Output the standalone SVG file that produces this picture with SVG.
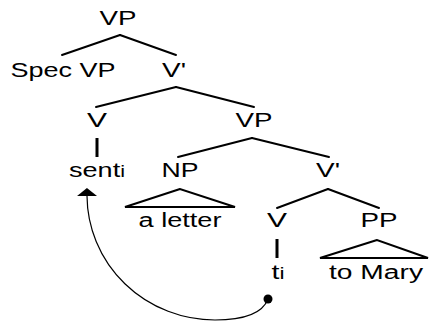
<svg xmlns="http://www.w3.org/2000/svg" width="430" height="324" viewBox="0 0 430 324">
<style>
text{font-family:"Liberation Sans",Arial,sans-serif;font-size:20px;fill:#000;text-anchor:middle}
.sub{font-size:16px}
.edge{stroke:#000;stroke-width:2;fill:none;stroke-linecap:round}
.stem{stroke:#000;stroke-width:3;fill:none}
.move{stroke:#000;stroke-width:1.2;fill:none}
</style>
<defs>
<marker id="arr" viewBox="0 0 8 20" refX="0" refY="10" markerWidth="8" markerHeight="20" markerUnits="userSpaceOnUse" orient="auto">
<path d="M0,0 L8,10 L0,20 z" fill="#000"/>
</marker>
</defs>
<rect width="430" height="324" fill="#fff"/>
<g id="connectors">
<line class="edge" x1="120" y1="35" x2="62" y2="55"/>
<line class="edge" x1="120" y1="35" x2="176" y2="55"/>
<line class="edge" x1="176" y1="87" x2="96" y2="107"/>
<line class="edge" x1="176" y1="87" x2="254" y2="107"/>
<line class="stem" x1="97" y1="138" x2="97" y2="157"/>
<line class="edge" x1="252" y1="138" x2="178" y2="157"/>
<line class="edge" x1="252" y1="138" x2="329" y2="157"/>
<polygon class="edge" points="180,189 125,207 235,207"/>
<line class="edge" x1="328" y1="189" x2="277" y2="208"/>
<line class="edge" x1="328" y1="189" x2="379" y2="208"/>
<line class="stem" x1="277" y1="239" x2="277" y2="258"/>
<polygon class="edge" points="377,240 320,258 428,258"/>
<path class="move" d="M268,299 Q260,320 215,320 A128 125 0 0 1 87,196" marker-end="url(#arr)"/>
<circle cx="268" cy="299" r="4.5" fill="#000"/>
</g>
<g id="vp-top"><text x="118" y="25" textLength="37" lengthAdjust="spacingAndGlyphs">VP</text></g>
<g id="spec-vp"><text x="63" y="77" textLength="105" lengthAdjust="spacingAndGlyphs">Spec VP</text></g>
<g id="vbar-top"><text x="174" y="77" textLength="24" lengthAdjust="spacingAndGlyphs">V'</text></g>
<g id="v-head"><text x="97" y="127" textLength="20" lengthAdjust="spacingAndGlyphs">V</text></g>
<g id="vp-lower"><text x="254" y="127" textLength="37" lengthAdjust="spacingAndGlyphs">VP</text></g>
<g id="senti"><text x="97" y="177" textLength="56" lengthAdjust="spacingAndGlyphs">sent<tspan class="sub">i</tspan></text></g>
<g id="np"><text x="180" y="177" textLength="37" lengthAdjust="spacingAndGlyphs">NP</text></g>
<g id="vbar-lower"><text x="328" y="177" textLength="24" lengthAdjust="spacingAndGlyphs">V'</text></g>
<g id="a-letter"><text x="180" y="227" textLength="83" lengthAdjust="spacingAndGlyphs">a letter</text></g>
<g id="v-trace"><text x="277" y="227" textLength="20" lengthAdjust="spacingAndGlyphs">V</text></g>
<g id="pp"><text x="379" y="227" textLength="37" lengthAdjust="spacingAndGlyphs">PP</text></g>
<g id="ti"><text x="278" y="279" textLength="13" lengthAdjust="spacingAndGlyphs">t<tspan class="sub">i</tspan></text></g>
<g id="to-mary"><text x="376" y="279" textLength="94" lengthAdjust="spacingAndGlyphs">to Mary</text></g>
</svg>
